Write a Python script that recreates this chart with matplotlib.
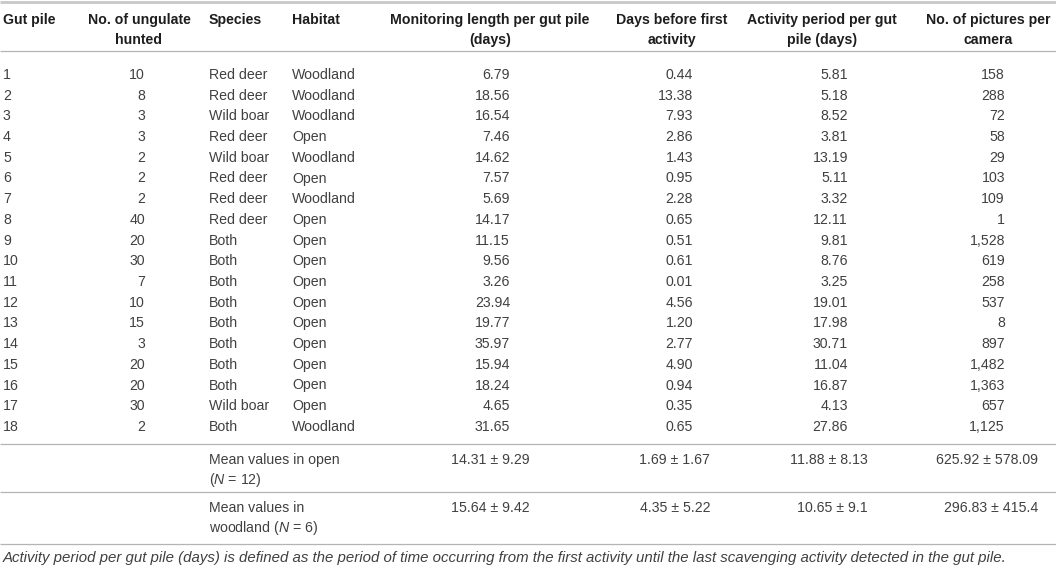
import matplotlib
matplotlib.use("Agg")
import matplotlib.pyplot as plt

# ---------------- data ----------------
gut_pile = list(range(1, 19))
ungulates = [10, 8, 3, 3, 2, 2, 2, 40, 20, 30, 7, 10, 15, 3, 20, 20, 30, 2]
species = ["Red deer", "Red deer", "Wild boar", "Red deer", "Wild boar", "Red deer",
           "Red deer", "Red deer", "Both", "Both", "Both", "Both", "Both", "Both",
           "Both", "Both", "Wild boar", "Both"]
habitat = ["Woodland", "Woodland", "Woodland", "Open", "Woodland", "Open", "Woodland",
           "Open", "Open", "Open", "Open", "Open", "Open", "Open", "Open", "Open",
           "Open", "Woodland"]
monitoring = [6.79, 18.56, 16.54, 7.46, 14.62, 7.57, 5.69, 14.17, 11.15, 9.56, 3.26,
              23.94, 19.77, 35.97, 15.94, 18.24, 4.65, 31.65]
days_first = [0.44, 13.38, 7.93, 2.86, 1.43, 0.95, 2.28, 0.65, 0.51, 0.61, 0.01,
              4.56, 1.20, 2.77, 4.90, 0.94, 0.35, 0.65]
activity = [5.81, 5.18, 8.52, 3.81, 13.19, 5.11, 3.32, 12.11, 9.81, 8.76, 3.25,
            19.01, 17.98, 30.71, 11.04, 16.87, 4.13, 27.86]
pictures = [158, 288, 72, 58, 29, 103, 109, 1, 1528, 619, 258, 537, 8, 897, 1482,
            1363, 657, 1125]

open_mean = [14.31, 1.69, 11.88, 625.92]
open_sd = [9.29, 1.67, 8.13, 578.09]
wood_mean = [15.64, 4.35, 10.65, 296.83]
wood_sd = [9.42, 5.22, 9.1, 415.4]

headers = [
    ("Gut pile", ""),
    ("No. of ungulate", "hunted"),
    ("Species", ""),
    ("Habitat", ""),
    ("Monitoring length per gut pile", "(days)"),
    ("Days before first", "activity"),
    ("Activity period per gut", "pile (days)"),
    ("No. of pictures per", "camera"),
]
footnote = ("Activity period per gut pile (days) is defined as the period of time occurring "
            "from the first activity until the last scavenging activity detected in the gut pile.")

# ---------------- style ----------------
plt.rcParams["font.family"] = ["Liberation Sans", "DejaVu Sans"]
plt.rcParams["mathtext.fontset"] = "custom"
plt.rcParams["mathtext.rm"] = "Liberation Sans"
plt.rcParams["mathtext.it"] = "Liberation Sans:italic"

W, H = 1056, 568
fig = plt.figure(figsize=(W / 100, H / 100), dpi=100)
ax = fig.add_axes([0, 0, 1, 1])
ax.set_xlim(0, W)
ax.set_ylim(H, 0)
ax.axis("off")

FS = 10.2
BODY = "#404040"
HEAD = "#1e1e1e"
LINE = "#b4b4b4"

# header layout: (x, ha)
head_pos = [(3, "left"), (139, "center"), (209, "left"), (292, "left"),
            (490, "center"), (672, "center"), (822, "center"), (988, "center")]
for (l1, l2), (x, ha) in zip(headers, head_pos):
    ax.text(x, 20, l1, ha=ha, va="center", fontsize=FS, fontweight="bold", color=HEAD)
    if l2:
        ax.text(x, 40, l2, ha=ha, va="center", fontsize=FS, fontweight="bold", color=HEAD)

# rules
ax.plot([0, W], [2, 2], color="#c8c8c8", lw=2.0, solid_capstyle="butt")
for y in [51, 444, 492, 544]:
    ax.plot([0, W], [y, y], color=LINE, lw=0.9, solid_capstyle="butt")

# body rows
y0, dy = 75, 20.7
for i in range(len(gut_pile)):
    y = y0 + i * dy
    ax.text(3, y, str(gut_pile[i]), ha="left", va="center", fontsize=FS, color=BODY)
    ax.text(145, y, str(ungulates[i]), ha="right", va="center", fontsize=FS, color=BODY)
    ax.text(209, y, species[i], ha="left", va="center", fontsize=FS, color=BODY)
    ax.text(292, y, habitat[i], ha="left", va="center", fontsize=FS, color=BODY)
    ax.text(510, y, f"{monitoring[i]:.2f}", ha="right", va="center", fontsize=FS, color=BODY)
    ax.text(693, y, f"{days_first[i]:.2f}", ha="right", va="center", fontsize=FS, color=BODY)
    ax.text(848, y, f"{activity[i]:.2f}", ha="right", va="center", fontsize=FS, color=BODY)
    ax.text(1005, y, f"{pictures[i]:,}", ha="right", va="center", fontsize=FS, color=BODY)

# mean rows
mean_x = [530, 710, 868, 1038]
ax.text(209, 460, "Mean values in open", ha="left", va="center", fontsize=FS, color=BODY)
ax.text(209, 480, "($\\mathit{N}$ = 12)", ha="left", va="center", fontsize=FS, color=BODY)
ax.text(209, 508, "Mean values in", ha="left", va="center", fontsize=FS, color=BODY)
ax.text(209, 528, "woodland ($\\mathit{N}$ = 6)", ha="left", va="center", fontsize=FS, color=BODY)
for x, m, s in zip(mean_x, open_mean, open_sd):
    ax.text(x, 460, f"{m} \u00b1 {s}", ha="right", va="center", fontsize=FS, color=BODY)
for x, m, s in zip(mean_x, wood_mean, wood_sd):
    ax.text(x, 508, f"{m} \u00b1 {s}", ha="right", va="center", fontsize=FS, color=BODY)

ax.text(3, 558, footnote, ha="left", va="center", fontsize=10.8, style="italic", color=BODY)

fig.savefig("out.png", dpi=100)
